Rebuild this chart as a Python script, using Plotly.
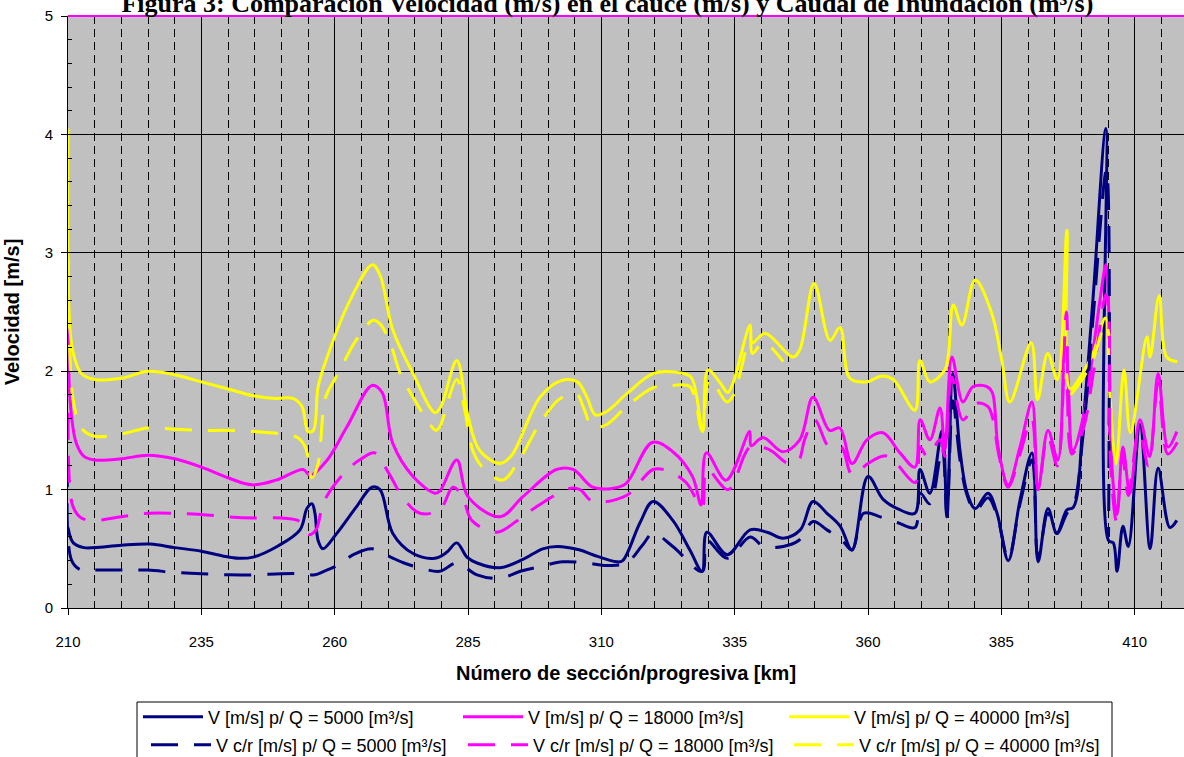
import plotly.graph_objects as go

# Progresiva [km] / velocidad [m/s] por serie (None = sin dato)
v_q5000 = [
    (210, 0.68), (211, 0.55), (213, 0.51), (215, 0.51), (220, 0.53), (225.4, 0.54),
    (230, 0.51), (235, 0.48), (239, 0.44), (242, 0.42), (244.7, 0.43), (249.2, 0.52),
    (253.5, 0.66), (254.8, 0.84), (255.75, 0.88), (256.3, 0.8), (256.9, 0.57),
    (257.8, 0.5), (260.4, 0.63), (264, 0.85), (267, 1.02), (268.5, 1.0), (270.9, 0.63),
    (274.7, 0.46), (278.8, 0.42), (281, 0.47), (282.9, 0.55), (284.8, 0.43),
    (286.7, 0.38), (291, 0.34), (295.3, 0.41), (299, 0.5), (301.7, 0.52), (306, 0.49),
    (308.4, 0.45), (312.9, 0.39), (314, 0.4), (317.25, 0.72), (319.7, 0.9),
    (323.4, 0.74), (326.6, 0.49), (328.9, 0.31), (329.8, 0.64), (333.6, 0.45),
    (337.9, 0.66), (341.1, 0.64), (344.1, 0.59), (347.3, 0.66), (349.7, 0.9),
    (352.3, 0.8), (354.8, 0.69), (357, 0.49), (360, 1.11), (362.8, 0.92),
    (365.5, 0.84), (368.8, 0.8), (369.75, 1.17), (371.6, 0.97), (373.9, 1.5),
    (374.8, 0.77), (375.9, 1.98), (377.25, 1.33), (378.6, 0.97), (380.1, 0.84),
    (382.5, 0.97), (384.2, 0.8), (386.3, 0.4), (388.5, 0.91), (390.75, 1.31),
    (391.9, 0.39), (393.75, 0.84), (395.4, 0.63), (397.3, 0.83), (398.5, 0.85),
    (400.3, 1.55), (402.2, 2.62), (404.6, 4.05), (405.1, 0.57), (406, 0.55),
    (406.7, 0.31), (407.8, 0.69), (408.8, 0.52), (411, 1.55), (412.9, 0.5),
    (414.4, 1.18), (416.6, 0.68), (417.9, 0.74),
]

v_q18000 = [
    (210, 2.65), (210.4, 1.75), (211.5, 1.4), (213, 1.28), (215, 1.25), (220, 1.26),
    (225, 1.29), (230, 1.26), (235, 1.19), (240, 1.1), (244.5, 1.04), (249, 1.08),
    (254.1, 1.17), (255.4, 1.12), (258.6, 1.25), (262.3, 1.53), (267, 1.88),
    (268.9, 1.82), (270.9, 1.39), (274.7, 1.11), (278.8, 0.97), (279.75, 0.99),
    (282.9, 1.25), (285, 0.94), (291, 0.77), (295.3, 0.94), (301.6, 1.17),
    (304.7, 1.17), (308.4, 1.02), (312.1, 1.01), (314.6, 1.05), (319.6, 1.4),
    (323.4, 1.32), (327.1, 1.11), (328.7, 0.87), (329.7, 1.31), (333.4, 1.08),
    (337.8, 1.49), (338.1, 1.37), (340.3, 1.44), (344, 1.32), (347.2, 1.42),
    (349.7, 1.78), (352.8, 1.5), (354.7, 1.52), (357, 1.22), (359.8, 1.42),
    (362.8, 1.48), (366, 1.31), (368.8, 1.19), (369.8, 1.59), (371.6, 1.42),
    (373.5, 1.69), (374.4, 1.33), (375.75, 2.12), (377.8, 1.74), (379.7, 1.87),
    (382.3, 1.87), (383.3, 1.82), (384.4, 1.36), (386.3, 1.04), (388.5, 1.36),
    (390.75, 1.74), (391.9, 1.0), (393.75, 1.5), (395.6, 1.25), (396.9, 2.26),
    (397.5, 1.95), (398.4, 1.33), (400.3, 1.6), (402.3, 2.2), (403.5, 2.6),
    (404.6, 2.9), (405.0, 2.71), (405.75, 1.19), (406.7, 0.79), (407.8, 1.36),
    (409.1, 0.97), (411, 1.59), (412.8, 1.28), (414.4, 1.98), (416.25, 1.36),
    (417.9, 1.49),
]

v_q40000 = [
    (210, 4.05), (210.3, 2.4), (211, 2.15), (212.5, 1.98), (215, 1.93), (220, 1.94),
    (225, 2.0), (230, 1.97), (235, 1.91), (240, 1.85), (245, 1.79), (249, 1.77),
    (252.2, 1.77), (253.9, 1.70), (255, 1.49), (256, 1.5), (256.9, 1.87),
    (258.6, 2.12), (262.9, 2.6), (267.1, 2.9), (268.6, 2.8), (270.9, 2.35),
    (274.7, 1.98), (278.8, 1.65), (279.9, 1.70), (282.9, 2.09), (285, 1.62),
    (287.2, 1.33), (291, 1.22), (293.2, 1.29), (298.5, 1.78), (302.5, 1.92),
    (305.5, 1.91), (307.3, 1.78), (308.9, 1.63), (311, 1.66), (314.8, 1.81),
    (319.7, 1.98), (324.2, 1.99), (326.8, 1.95), (329, 1.49), (330, 2.01),
    (332.3, 1.9), (333.7, 1.82), (334.7, 1.9), (337.9, 2.39), (338.3, 2.24),
    (340.7, 2.32), (345.9, 2.12), (347.2, 2.18), (349.9, 2.74), (352.9, 2.26),
    (354.75, 2.37), (356.6, 1.94), (359.8, 1.91), (362.6, 1.96), (364.75, 1.93),
    (368.8, 1.67), (369.75, 2.09), (371.6, 1.91), (374.4, 2.01), (375.1, 2.15),
    (376, 2.56), (377.6, 2.39), (380.1, 2.77), (383.2, 2.49), (385.1, 2.09),
    (386.6, 1.74), (390.6, 2.24), (391.8, 1.76), (393.7, 2.15), (395.5, 1.93),
    (397.3, 3.19), (397.9, 1.85), (400.2, 1.98), (402.2, 2.15), (404.5, 2.45),
    (405.3, 1.85), (406.5, 1.22), (408, 2.01), (409.2, 1.48), (412.3, 2.29),
    (412.9, 2.12), (414.6, 2.64), (416, 2.12), (418, 2.08),
]

vcr_q5000 = [
    (210, 1.25), (210.7, 0.4), (212.5, 0.32), (215, 0.32), (220, 0.32), (225, 0.32),
    (230, 0.3), (235, 0.29), (240, 0.28), (245, 0.28), (250, 0.29), (254, 0.29),
    (256.3, 0.28), (258, 0.31), (260.5, 0.36), (263.5, 0.45), (267, 0.5),
    (270.5, 0.43), (273, 0.38), (276, 0.34), (279.7, 0.31), (282.9, 0.38),
    (286.7, 0.28), (291, 0.25), (294.8, 0.31), (298.5, 0.35), (302.8, 0.39),
    (307.3, 0.38), (311, 0.36), (314.7, 0.38), (317.7, 0.53), (319.7, 0.63),
    (323.4, 0.52), (328.9, 0.31), (329.8, 0.57), (333.6, 0.42), (337.9, 0.6),
    (340.4, 0.52), (344.1, 0.52), (347, 0.57), (349.7, 0.73), (352.3, 0.66),
    (355, 0.58), (357, 0.49), (359.2, 0.8), (362.3, 0.77), (365.6, 0.72),
    (368.8, 0.68), (369.8, 0.97), (371.6, 0.88), (373.9, 1.35), (374.8, 0.78),
    (375.9, 1.75), (377.25, 1.25), (378.6, 0.95), (380.1, 0.82), (382.5, 0.93),
    (384.2, 0.78), (386.3, 0.42), (388.5, 0.88), (390.75, 1.25), (391.9, 0.42),
    (393.75, 0.8), (395.4, 0.63), (397.3, 0.8), (398.5, 0.86), (400.3, 1.45),
    (402.2, 2.45), (404.7, 3.7), (405.1, 0.6),
]

vcr_q18000 = [
    (210, 1.65), (210.3, 1.05), (211, 0.85), (212.5, 0.76), (215, 0.74), (220, 0.77),
    (225, 0.8), (230, 0.8), (235, 0.79), (240, 0.77), (245, 0.76), (250, 0.76),
    (253.5, 0.73), (255.2, 0.62), (256.5, 0.66), (258, 0.9), (262, 1.15),
    (265, 1.26), (267.5, 1.31), (270, 1.15), (273, 0.92), (276, 0.8),
    (279.7, 0.83), (282.2, 1.02), (284, 0.94), (285.7, 0.74), (290.4, 0.64),
    (294, 0.73), (297, 0.83), (304, 1.01), (306, 1.0), (308.4, 0.9), (314.7, 0.95),
    (319.7, 1.17), (322.3, 1.16), (325.9, 1.06), (328.9, 0.85), (329.8, 1.17),
    (333.8, 1.0), (337.9, 1.36), (341.4, 1.34), (345.1, 1.22), (347, 1.25),
    (348.1, 1.42), (350, 1.59), (352.7, 1.36), (355, 1.36), (357, 1.13),
    (360, 1.22), (362.5, 1.28), (364, 1.28), (365.2, 1.23), (368.9, 1.06),
    (369.8, 1.36), (371.1, 1.28), (373.5, 1.42), (374.4, 1.28), (375.7, 1.95),
    (377.8, 1.59), (380.4, 1.73), (382.5, 1.7), (383.4, 1.6), (384.5, 1.3),
    (386.3, 1.02), (388.5, 1.3), (390.7, 1.6), (391.9, 1.0), (393.7, 1.45),
    (395.5, 1.2), (397.2, 2.5), (398.2, 1.3), (400.3, 1.5), (402.3, 2.0),
    (404.6, 2.65), (405.1, 2.5), (405.5, 1.2), (406.6, 0.73), (407.7, 1.3),
    (408.8, 0.95), (410.8, 1.5), (412.6, 1.2), (414.4, 1.9), (416.2, 1.3),
    (418, 1.4),
]

vcr_q40000 = [
    (210, 2.95), (210.3, 2.2), (211, 1.75), (212.5, 1.52), (215, 1.45), (220, 1.47),
    (225, 1.52), (230, 1.51), (235, 1.5), (240, 1.5), (245, 1.49), (250, 1.47),
    (253, 1.44), (254.5, 1.36), (255.7, 1.1), (256.8, 1.2), (258.3, 1.78),
    (260, 1.93), (262, 2.1), (264, 2.26), (267.2, 2.43), (268.5, 2.4),
    (270.4, 2.24), (272.3, 1.98), (274.7, 1.78), (279, 1.5), (279.7, 1.53),
    (282.9, 1.93), (284.4, 1.67), (285.9, 1.33), (287.7, 1.19), (291.5, 1.08),
    (294.2, 1.22), (298.5, 1.56), (302.3, 1.77), (305.5, 1.8), (306.6, 1.7),
    (308.4, 1.53), (311, 1.55), (314.7, 1.7), (319.7, 1.86), (323.4, 1.88),
    (326.6, 1.87), (328.9, 1.5), (330.3, 1.93), (333.6, 1.74), (334.8, 1.8),
    (337.9, 2.29), (338.3, 2.15), (340.4, 2.24), (344.1, 2.08),
    None,
    (398, 1.8), (400, 1.92), (402.2, 2.1), (404.5, 2.4), (405.2, 2.3),
]

series_names = [
    "V [m/s] p/ Q = 5000 [m³/s]",
    "V [m/s] p/ Q = 18000 [m³/s]",
    "V [m/s] p/ Q = 40000 [m³/s]",
    "V c/r [m/s] p/ Q = 5000 [m³/s]",
    "V c/r [m/s] p/ Q = 18000 [m³/s]",
    "V c/r [m/s] p/ Q = 40000 [m³/s]",
]
series_data = [v_q5000, v_q18000, v_q40000, vcr_q5000, vcr_q18000, vcr_q40000]
colors = ["#000080", "#FF00FF", "#FFFF00"] * 2

FONT = "Liberation Sans, Arial, sans-serif"
DASH = "27px,16px"
ITEM_W = 60  # legend line sample width

# plot area in pixels: left 68, width 1116; top 16, height 592
def px_x(x):
    return (x - 68) / 1116

def px_y(y):
    return (608 - y) / 592

# x where each legend text starts, and the row centre
legend_text_x = [208, 528, 854, 216, 533, 859]
legend_row = [717, 717, 717, 745, 745, 745]
legend_ids = ["legend", "legend2", "legend3", "legend4", "legend5", "legend6"]

fig = go.Figure()
for i, (name, data) in enumerate(zip(series_names, series_data)):
    xs = [p[0] if p is not None else None for p in data]
    ys = [p[1] if p is not None else None for p in data]
    dashed = i >= 3
    fig.add_trace(go.Scatter(
        x=xs, y=ys, name=name, mode="lines",
        line=dict(color=colors[i], width=3, shape="spline", smoothing=1.0,
                  dash=DASH if dashed else "solid"),
        connectgaps=False,
        legend=legend_ids[i],
    ))

legends = {}
for lid, tx, ly in zip(legend_ids, legend_text_x, legend_row):
    legends[lid] = dict(
        orientation="h", xanchor="left", yanchor="middle",
        x=px_x(tx - ITEM_W - 10), y=px_y(ly),
        itemwidth=ITEM_W,
        font=dict(family=FONT, size=18, color="black"),
        bgcolor="rgba(0,0,0,0)", borderwidth=0,
    )

fig.update_layout(
    width=1184, height=757,
    margin=dict(l=68, r=0, t=16, b=149, autoexpand=False),
    paper_bgcolor="white",
    plot_bgcolor="#C0C0C0",
    showlegend=True,
    title=dict(
        text="Figura 3: Comparación Velocidad (m/s) en el cauce (m/s) y Caudal de Inundación (m³/s)",
        font=dict(family="Liberation Serif, Times New Roman, serif", size=26,
                  color="black", weight="bold"),
        x=0.513, xref="container", xanchor="center",
        y=1 - 3 / 757, yref="container", yanchor="middle",
    ),
    xaxis=dict(
        range=[210, 419.25], tick0=210, dtick=25,
        ticks="outside", ticklen=6, tickcolor="black", tickwidth=1,
        ticklabelstandoff=14,
        tickfont=dict(family=FONT, size=15, color="black"),
        showgrid=True, gridcolor="black", gridwidth=1,
        showline=True, linecolor="black", linewidth=1,
        zeroline=False,
        minor=dict(dtick=5, tick0=210, showgrid=True, gridcolor="black",
                   gridwidth=1, griddash="8px,5px", ticks=""),
        title=dict(text="Número de sección/progresiva [km]", standoff=16,
                   font=dict(family=FONT, size=20, color="black", weight="bold")),
        automargin=False,
    ),
    yaxis=dict(
        range=[0, 5], dtick=1,
        ticks="outside", ticklen=6, tickcolor="black", tickwidth=1,
        ticklabelstandoff=5,
        tickfont=dict(family=FONT, size=15, color="black"),
        showgrid=True, gridcolor="black", gridwidth=1,
        showline=True, linecolor="black", linewidth=1,
        zeroline=False,
        minor=dict(dtick=0.2, ticks="inside", ticklen=4, tickcolor="black",
                   showgrid=False),
        title=dict(text="Velocidad [m/s]", standoff=19,
                   font=dict(family=FONT, size=20, color="black", weight="bold")),
        automargin=False,
    ),
    shapes=[
        # top edge of the plot area
        dict(type="line", xref="paper", yref="paper", x0=0, x1=1, y0=1, y1=1,
             line=dict(color="#FF00FF", width=2), layer="above"),
        # legend frame
        dict(type="rect", xref="paper", yref="paper",
             x0=px_x(137), x1=px_x(1112), y0=px_y(702), y1=px_y(775),
             line=dict(color="black", width=1), fillcolor="rgba(0,0,0,0)",
             layer="above"),
    ],
    **legends,
)

fig.write_html("out.html")
